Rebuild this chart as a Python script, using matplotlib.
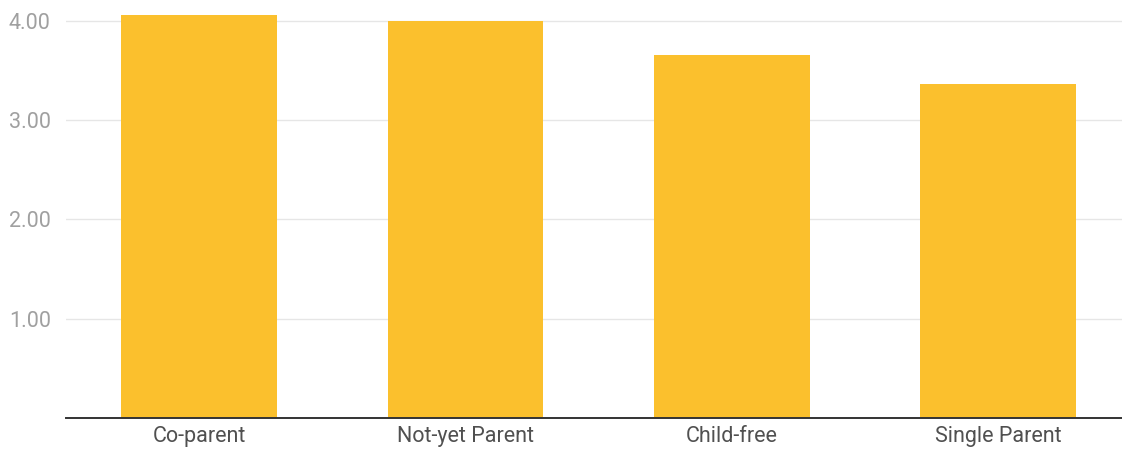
import matplotlib
matplotlib.use('Agg')
import matplotlib.pyplot as plt

categories = ['Co-parent', 'Not-yet Parent', 'Child-free', 'Single Parent']
scores = [4.06, 4.00, 3.66, 3.36]
yticks = [1.0, 2.0, 3.0, 4.0]

plt.rcParams['font.family'] = ['Roboto', 'DejaVu Sans']

fig = plt.figure(figsize=(11.22, 4.55), dpi=100)
ax = fig.add_axes([66 / 1122, 37 / 455, 1056 / 1122, 418 / 455])

x = range(len(categories))
ax.bar(x, scores, width=0.585, color='#fbc02d', zorder=2)

ax.set_xlim(-0.5, 3.465)
ax.set_ylim(0, 4.21)
ax.set_yticks(yticks)
ax.set_yticklabels([f'{v:.2f}' for v in yticks], fontsize=15.5, color='#a0a0a0')
ax.set_xticks(list(x))
ax.set_xticklabels(categories, fontsize=15.5, color='#505050')

ax.grid(axis='y', color='#e6e6e6', linewidth=1, zorder=0)
for side in ['top', 'right', 'left']:
    ax.spines[side].set_visible(False)
ax.spines['bottom'].set_color('#333333')
ax.spines['bottom'].set_linewidth(1.4)
ax.spines['bottom'].set_zorder(3)
ax.tick_params(axis='both', length=0)
ax.tick_params(axis='y', pad=11)
ax.tick_params(axis='x', pad=6)

fig.savefig('out.png', dpi=100, facecolor='white')
